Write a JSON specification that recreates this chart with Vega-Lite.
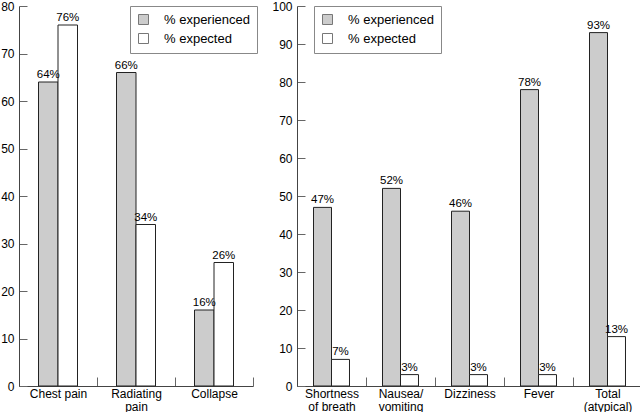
{
  "$schema": "https://vega.github.io/schema/vega-lite/v6.json",
  "padding": {"left": 0, "top": 0, "right": 0, "bottom": 0},
  "spacing": 44,
  "bounds": "flush",
  "config": {
    "font": "Liberation Sans",
    "view": {"stroke": null},
    "text": {"fill": "#000000", "color": "#000000"},
    "axis": {"grid": false, "domainColor": "#444", "tickColor": "#666", "labelColor": "#000", "labelFontSize": 12, "labelFont": "Liberation Sans"},
    "legend": {"strokeColor": "#888", "padding": 7, "symbolType": "square", "symbolSize": 100, "symbolStrokeColor": "#777", "symbolStrokeWidth": 1, "labelFontSize": 13, "labelOffset": 14, "rowPadding": 4, "labelColor": "#000", "labelFont": "Liberation Sans"}
  },
  "resolve": {"scale": {"color": "independent", "x": "independent", "y": "independent", "xOffset": "independent"}, "legend": {"color": "independent"}},
  "hconcat": [
    {
      "width": 234,
      "height": 380,
      "data": {"values": [
        {"symptom": "Chest pain", "series": "% experienced", "value": 64},
        {"symptom": "Chest pain", "series": "% expected", "value": 76},
        {"symptom": "Radiating|pain", "series": "% experienced", "value": 66},
        {"symptom": "Radiating|pain", "series": "% expected", "value": 34},
        {"symptom": "Collapse", "series": "% experienced", "value": 16},
        {"symptom": "Collapse", "series": "% expected", "value": 26}
      ]},
      "transform": [{"calculate": "datum.value + '%'", "as": "label"}],
      "encoding": {
        "x": {"field": "symptom", "type": "nominal", "sort": null, "scale": {"paddingInner": 0, "paddingOuter": 0},
          "axis": {"title": null, "labelAngle": 0, "tickBand": "extent", "tickSize": -9, "labelPadding": 11, "labelExpr": "split(datum.label, '|')", "labelLineHeight": 13}},
        "xOffset": {"field": "series", "type": "nominal", "sort": ["% experienced", "% expected"], "scale": {"paddingInner": 0, "paddingOuter": 1.1667}},
        "y": {"field": "value", "type": "quantitative", "scale": {"domain": [0, 80], "nice": false},
          "axis": {"title": null, "values": [0, 10, 20, 30, 40, 50, 60, 70, 80], "tickSize": -8, "labelPadding": 13}}
      },
      "layer": [
        {"mark": {"type": "bar", "stroke": "#222", "strokeWidth": 1},
         "encoding": {"color": {"field": "series", "type": "nominal", "scale": {"domain": ["% experienced", "% expected"], "range": ["#cccccc", "#ffffff"]},
           "legend": {"title": null, "orient": "none", "legendX": 111, "legendY": 0}}}},
        {"mark": {"type": "text", "baseline": "alphabetic", "dy": -4, "fontSize": 11.5, "fill": "#000000"},
         "encoding": {"text": {"field": "label"}}}
      ]
    },
    {
      "width": 345,
      "height": 380,
      "data": {"values": [
        {"symptom": "Shortness|of breath", "series": "% experienced", "value": 47},
        {"symptom": "Shortness|of breath", "series": "% expected", "value": 7},
        {"symptom": "Nausea/|vomiting", "series": "% experienced", "value": 52},
        {"symptom": "Nausea/|vomiting", "series": "% expected", "value": 3},
        {"symptom": "Dizziness", "series": "% experienced", "value": 46},
        {"symptom": "Dizziness", "series": "% expected", "value": 3},
        {"symptom": "Fever", "series": "% experienced", "value": 78},
        {"symptom": "Fever", "series": "% expected", "value": 3},
        {"symptom": "Total|(atypical)", "series": "% experienced", "value": 93},
        {"symptom": "Total|(atypical)", "series": "% expected", "value": 13}
      ]},
      "transform": [{"calculate": "datum.value + '%'", "as": "label"}],
      "encoding": {
        "x": {"field": "symptom", "type": "nominal", "sort": null, "scale": {"paddingInner": 0, "paddingOuter": 0},
          "axis": {"title": null, "labelAngle": 0, "tickBand": "extent", "tickSize": -9, "labelPadding": 11, "labelExpr": "split(datum.label, '|')", "labelLineHeight": 13}},
        "xOffset": {"field": "series", "type": "nominal", "sort": ["% experienced", "% expected"], "scale": {"paddingInner": 0, "paddingOuter": 0.917}},
        "y": {"field": "value", "type": "quantitative", "scale": {"domain": [0, 100], "nice": false},
          "axis": {"title": null, "values": [0, 10, 20, 30, 40, 50, 60, 70, 80, 90, 100], "tickSize": -8, "labelPadding": 13}}
      },
      "layer": [
        {"mark": {"type": "bar", "stroke": "#222", "strokeWidth": 1},
         "encoding": {"color": {"field": "series", "type": "nominal", "scale": {"domain": ["% experienced", "% expected"], "range": ["#cccccc", "#ffffff"]},
           "legend": {"title": null, "orient": "none", "legendX": 17, "legendY": 0}}}},
        {"mark": {"type": "text", "baseline": "alphabetic", "dy": -4, "fontSize": 11.5, "fill": "#000000"},
         "encoding": {"text": {"field": "label"}}}
      ]
    }
  ]
}
